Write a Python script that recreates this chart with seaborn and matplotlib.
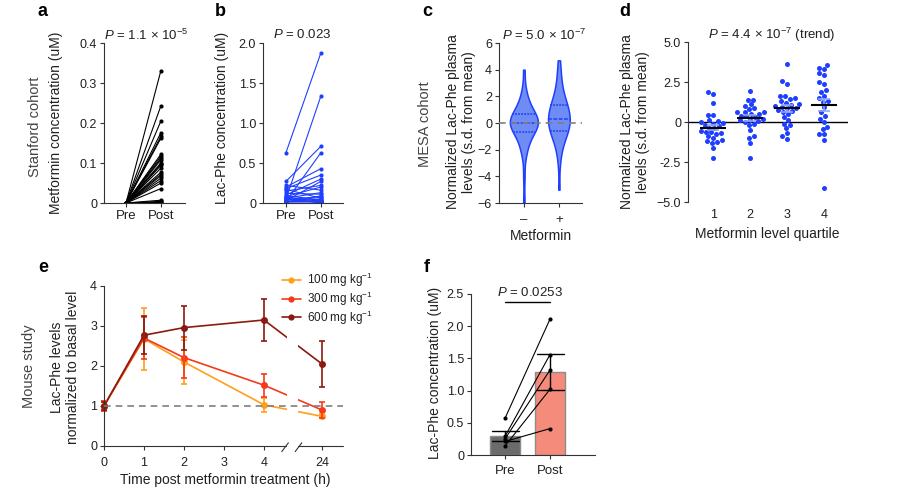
import numpy as np
import pandas as pd
import matplotlib
matplotlib.use("Agg")
import matplotlib.pyplot as plt
import matplotlib.transforms as mtrans
from matplotlib.patches import Rectangle
from matplotlib.lines import Line2D
import seaborn as sns

# ---------------- data ----------------
# a: Stanford cohort, metformin (uM)
metformin_pre = [0.0, 0.0, 0.0, 0.0, 0.0, 0.0, 0.0, 0.0, 0.0, 0.0, 0.0, 0.0, 0.0,
                 0.0, 0.0, 0.0, 0.0, 0.0, 0.0, 0.0, 0.0, 0.0, 0.0, 0.0, 0.0]
metformin_post = [0.331, 0.243, 0.205, 0.176, 0.167, 0.162, 0.122, 0.117, 0.112,
                  0.108, 0.100, 0.097, 0.094, 0.087, 0.077, 0.072, 0.068, 0.062,
                  0.056, 0.050, 0.036, 0.007, 0.004, 0.002, 0.001]
# b: Stanford cohort, Lac-Phe (uM)
lacphe_pre = [0.63, 0.05, 0.27, 0.02, 0.20, 0.18, 0.10, 0.03, 0.15, 0.08, 0.22, 0.06,
              0.12, 0.01, 0.04, 0.17, 0.02, 0.09, 0.05, 0.03, 0.07, 0.01, 0.04, 0.02, 0.06]
lacphe_post = [1.88, 1.34, 0.71, 0.63, 0.43, 0.35, 0.30, 0.27, 0.22, 0.20, 0.16, 0.13,
               0.11, 0.09, 0.08, 0.06, 0.05, 0.04, 0.03, 0.03, 0.02, 0.02, 0.01, 0.01, 0.00]
pair_labels = ["Pre", "Post"]

# c: MESA cohort, normalized Lac-Phe by metformin use
mesa_groups = ["\u2013", "+"]
mesa_minus = [-6.0, -4.0, -2.4, -2.1, -1.8, -1.5, -1.25, -1.05, -0.9, -0.75,
              -0.65, -0.55, -0.45, -0.38, -0.3, -0.22, -0.15, -0.1, -0.05, -0.02,
              0.02, 0.08, 0.15, 0.22, 0.3, 0.38, 0.45, 0.52, 0.58, 0.62,
              0.7, 0.85, 1.0, 1.15, 1.35, 1.55, 1.8, 2.1, 2.6, 4.0]
mesa_plus = [-5.0, -3.0, -2.2, -1.8, -1.5, -1.25, -1.05, -0.9, -0.8, -0.68,
             -0.58, -0.45, -0.35, -0.25, -0.12, 0.0, 0.08, 0.15, 0.22, 0.28,
             0.32, 0.42, 0.55, 0.7, 0.82, 0.95, 1.05, 1.15, 1.25, 1.35,
             1.42, 1.6, 1.8, 2.0, 2.25, 2.5, 2.9, 3.4, 3.9, 4.7]

# d: metformin level quartiles
quartile_labels = ["1", "2", "3", "4"]
q1_vals = [1.85, 1.75, 1.2, 0.45, 0.45, 0.1, 0.05, 0.0, -0.05, -0.1, -0.2, -0.25, -0.35,
           -0.4, -0.55, -0.6, -0.65, -0.7, -0.75, -0.9, -1.0, -1.15, -1.2, -1.25, -1.3,
           -1.6, -2.25]
q2_vals = [1.95, 1.4, 1.35, 1.1, 1.0, 0.85, 0.8, 0.65, 0.6, 0.6, 0.5, 0.5, 0.4, 0.35,
           0.3, 0.2, 0.15, 0.1, 0.05, 0.0, -0.1, -0.2, -0.5, -0.9, -1.0, -1.3, -2.25]
q3_vals = [3.65, 2.55, 2.4, 1.65, 1.6, 1.5, 1.45, 1.3, 1.2, 1.15, 1.05, 1.0, 0.95, 0.9,
           0.85, 0.75, 0.7, 0.6, 0.5, 0.3, 0.1, -0.1, -0.2, -0.4, -0.7, -0.9, -1.05]
q4_vals = [3.55, 3.4, 3.3, 3.05, 2.95, 2.5, 2.4, 2.0, 1.85, 1.6, 1.5, 1.3, 1.25, 0.95,
           0.6, 0.35, 0.2, 0.0, -0.3, -0.45, -0.75, -0.75, -1.1, -4.1]

# e: mouse study time course
hours = [0, 1, 2, 4, 24]
hour_ticks = [0, 1, 2, 3, 4, 24]
doses = ["100 mg kg$^{-1}$", "300 mg kg$^{-1}$", "600 mg kg$^{-1}$"]
mean_100 = [1.0, 2.68, 2.10, 1.03, 0.74]
sem_100 = [0.12, 0.78, 0.55, 0.17, 0.05]
mean_300 = [1.0, 2.70, 2.21, 1.52, 0.90]
sem_300 = [0.12, 0.53, 0.52, 0.29, 0.20]
mean_600 = [1.0, 2.77, 2.96, 3.15, 2.05]
sem_600 = [0.10, 0.48, 0.55, 0.53, 0.57]

# f: Lac-Phe pre/post (uM)
f_pre = [0.57, 0.29, 0.25, 0.14, 0.21]
f_post = [2.11, 1.56, 1.32, 1.02, 0.41]
f_p_text = "0.0253"

# ---------------- style ----------------
sns.set_theme(style="ticks")
plt.rcParams["font.family"] = ["Liberation Sans", "DejaVu Sans"]
plt.rcParams["mathtext.fontset"] = "custom"
plt.rcParams["mathtext.rm"] = "Liberation Sans"
plt.rcParams["mathtext.it"] = "Liberation Sans:italic"
plt.rcParams["axes.linewidth"] = 0.8
TXT = "#231f20"
BLUE = "#1f3fff"
TICK_FS = 9
CAT_FS = 9.5
LAB_FS = 10
P_FS = 9.5

W, H = 908, 492
fig = plt.figure(figsize=(W / 100, H / 100), dpi=100)


def add_ax(x0, x1, y0, y1):
    return fig.add_axes([x0 / W, 1 - y1 / H, (x1 - x0) / W, (y1 - y0) / H])


def ftext(x, y, s, **kw):
    kw.setdefault("color", TXT)
    kw.setdefault("ha", "center")
    kw.setdefault("va", "center")
    fig.text(x / W, 1 - y / H, s, **kw)


def style_ax(ax, xpad=2):
    sns.despine(ax=ax)
    ax.tick_params(axis="both", labelsize=TICK_FS, length=3, width=0.8,
                   colors="#333333", labelcolor=TXT, pad=2)
    ax.tick_params(axis="x", pad=xpad, labelsize=CAT_FS)
    for sp in ["left", "bottom"]:
        ax.spines[sp].set_color("#333333")
    ax.set_xlabel("")
    ax.set_ylabel("")


def pair_df(pre, post):
    n = len(pre)
    return pd.DataFrame({"subject": list(range(n)) * 2,
                         "pos": [0] * n + [1] * n,
                         "value": list(pre) + list(post)})


def ptext(x, y, rest, fs=P_FS):
    ftext(x, y, "$\\it{P}$ = " + rest, fontsize=fs)


# ---------------- panel a ----------------
ax = add_ax(104, 185, 43, 203)
sns.lineplot(data=pair_df(metformin_pre, metformin_post), x="pos", y="value",
             units="subject", estimator=None, color="black", lw=0.8,
             marker="o", markersize=3, markeredgewidth=0, ax=ax, legend=False)
ax.set_xlim(-0.63, 1.69)
ax.set_ylim(0, 0.4)
ax.set_yticks([0, 0.1, 0.2, 0.3, 0.4], ["0", "0.1", "0.2", "0.3", "0.4"])
ax.set_xticks([0, 1], pair_labels)
style_ax(ax)
ftext(35, 127, "Stanford cohort", rotation=90, fontsize=LAB_FS + 0.5, color="#444444")
ftext(56, 123, "Metformin concentration (uM)", rotation=90, fontsize=LAB_FS)
ptext(146, 35, "1.1 \u00d7 10$^{-5}$")

# ---------------- panel b ----------------
ax = add_ax(263, 343, 43, 203)
sns.lineplot(data=pair_df(lacphe_pre, lacphe_post), x="pos", y="value",
             units="subject", estimator=None, color=BLUE, lw=0.8,
             marker="o", markersize=3, markeredgewidth=0, ax=ax, legend=False)
ax.set_xlim(-0.657, 1.63)
ax.set_ylim(0, 2.0)
ax.set_yticks([0, 0.5, 1.0, 1.5, 2.0], ["0", "0.5", "1.0", "1.5", "2.0"])
ax.set_xticks([0, 1], pair_labels)
style_ax(ax)
ftext(222, 118, "Lac-Phe concentration (uM)", rotation=90, fontsize=LAB_FS)
ptext(302, 35, "0.023")

# ---------------- panel c ----------------
ax = add_ax(499, 582, 43, 203)
dfc = pd.DataFrame({"group": [mesa_groups[0]] * len(mesa_minus) + [mesa_groups[1]] * len(mesa_plus),
                    "value": mesa_minus + mesa_plus})
sns.violinplot(data=dfc, x="group", y="value", order=mesa_groups, inner="quart",
               cut=0, width=0.8, color="#6f8cf4", saturation=1, linecolor=BLUE,
               linewidth=1.1, bw_adjust=0.85, ax=ax)
ax.axhline(0, color="#808080", ls=(0, (4, 3)), lw=1.2, zorder=5)
ax.set_xlim(-0.71, 1.66)
ax.set_ylim(-6, 6)
ax.set_yticks([-6, -4, -2, 0, 2, 4, 6], ["\u22126", "\u22124", "\u22122", "0", "2", "4", "6"])
style_ax(ax, xpad=5)
ftext(425, 124, "MESA cohort", rotation=90, fontsize=LAB_FS + 0.5, color="#444444")
ftext(461, 122, "Normalized Lac-Phe plasma\nlevels (s.d. from mean)", rotation=90,
      fontsize=LAB_FS, linespacing=1.1)
ftext(541, 236, "Metformin", fontsize=LAB_FS)
ptext(544, 35, "5.0 \u00d7 10$^{-7}$")

# ---------------- panel d ----------------
ax = add_ax(688, 848, 42, 202)
qvals = [q1_vals, q2_vals, q3_vals, q4_vals]
dfd = pd.DataFrame({"quartile": sum([[q] * len(v) for q, v in zip(quartile_labels, qvals)], []),
                    "value": sum(qvals, [])})
ax.axhline(0, color="black", lw=1.0, zorder=1)
sns.swarmplot(data=dfd, x="quartile", y="value", order=quartile_labels, color=BLUE,
              size=3.6, ax=ax, zorder=3)
for i, v in enumerate(qvals):
    m = np.mean(v)
    s = np.std(v, ddof=1) / np.sqrt(len(v))
    ax.errorbar(i, m, yerr=s, color="#8ea6f8", capsize=4, lw=1.2, capthick=1.2, zorder=4)
    ax.hlines(m, i - 0.36, i + 0.36, color="black", lw=1.5, zorder=5)
ax.set_xlim(-0.68, 3.65)
ax.set_ylim(-5, 5)
ax.set_yticks([-5, -2.5, 0, 2.5, 5], ["\u22125.0", "-2.5", "0", "2.5", "5.0"])
style_ax(ax, xpad=5)
ax.spines["bottom"].set_visible(False)
ax.tick_params(axis="x", length=0, labelsize=TICK_FS)
ftext(635, 122, "Normalized Lac-Phe plasma\nlevels (s.d. from mean)", rotation=90,
      fontsize=LAB_FS, linespacing=1.1)
ftext(767, 234, "Metformin level quartile", fontsize=LAB_FS)
ptext(772, 35, "4.4 \u00d7 10$^{-7}$ (trend)")

# ---------------- panel e ----------------
ax = add_ax(104, 343, 286, 446)
BREAK_POS = 5.45


def xpos(h):
    return h if h <= 4 else BREAK_POS


palette_e = ["#ff9f1c", "#f5391c", "#8b1a10"]
rows = []
for d, ms_, ss_ in zip(doses, [mean_100, mean_300, mean_600], [sem_100, sem_300, sem_600]):
    for h, m, s in zip(hours, ms_, ss_):
        rows.append({"dose": d, "pos": xpos(h), "mean": m, "sem": s})
dfe = pd.DataFrame(rows)
sns.lineplot(data=dfe, x="pos", y="mean", hue="dose", hue_order=doses, palette=palette_e,
             marker="o", markersize=5, markeredgewidth=0, lw=1.2, ax=ax, legend=False)
for d, c in zip(doses, palette_e):
    sub = dfe[dfe["dose"] == d]
    ax.errorbar(sub["pos"], sub["mean"], yerr=sub["sem"], fmt="none", ecolor=c,
                elinewidth=1.2, capsize=2.5, capthick=1.2, clip_on=False)
for ln in ax.lines:
    ln.set_clip_on(False)
blend = mtrans.blended_transform_factory(ax.transData, ax.transAxes)
ax.add_patch(Rectangle((4.575, 0.0), 4.85 - 4.575, 1.0, transform=blend,
                       facecolor="white", edgecolor="none", zorder=3))
ax.axhline(1, color="#7f7f7f", ls=(0, (4, 3)), lw=1.2, zorder=4)
ax.set_xlim(0, 5.975)
ax.set_ylim(0, 4)
ax.set_yticks([0, 1, 2, 3, 4])
ax.set_xticks([xpos(h) for h in hour_ticks], [str(h) for h in hour_ticks])
style_ax(ax, xpad=5)
ax.tick_params(axis="x", labelsize=TICK_FS)
ax.spines["bottom"].set_visible(False)
ax.plot([0, 4.55], [0, 0], color="#333333", lw=0.8, clip_on=False, zorder=6)
ax.plot([4.85, 5.975], [0, 0], color="#333333", lw=0.8, clip_on=False, zorder=6)
ax.plot([4.445, 4.61], [-0.14, 0.08], color="#333333", lw=0.8, clip_on=False, zorder=6)
ax.plot([4.78, 4.945], [-0.14, 0.08], color="#333333", lw=0.8, clip_on=False, zorder=6)
handles = [Line2D([0], [0], color=c, marker="o", markersize=4.5, markeredgewidth=0, lw=1.2)
           for c in palette_e]
leg = ax.legend(handles, doses, loc="upper left", bbox_to_anchor=(277 / W, 1 - 266 / H),
                bbox_transform=fig.transFigure, frameon=False, fontsize=8.5,
                handlelength=1.6, handletextpad=0.5, labelspacing=0.05, borderaxespad=0)
for t in leg.get_texts():
    t.set_color(TXT)
ftext(29, 366, "Mouse study", rotation=90, fontsize=LAB_FS + 0.5, color="#444444")
ftext(65, 367, "Lac-Phe levels\nnormalized to basal level", rotation=90,
      fontsize=LAB_FS, linespacing=1.1)
ftext(225, 480, "Time post metformin treatment (h)", fontsize=LAB_FS)

# ---------------- panel f ----------------
ax = add_ax(471, 595, 294, 455)
dff = pd.DataFrame({"time": [pair_labels[0]] * len(f_pre) + [pair_labels[1]] * len(f_post),
                    "value": f_pre + f_post,
                    "subject": list(range(len(f_pre))) * 2,
                    "pos": [0] * len(f_pre) + [1] * len(f_post)})
sns.barplot(data=dff, x="time", y="value", order=pair_labels, hue="time",
            palette={"Pre": "#6b6b6b", "Post": "#f58b7b"}, saturation=1,
            errorbar="se", capsize=0.6, err_kws={"color": "black", "linewidth": 1.0},
            width=0.67, edgecolor="#8c8c8c", linewidth=1.0, legend=False, ax=ax)
sns.lineplot(data=dff, x="pos", y="value", units="subject", estimator=None,
             color="black", lw=0.8, marker="o", markersize=3, markeredgewidth=0,
             ax=ax, legend=False, zorder=5)
ax.plot([0, 1], [2.38, 2.38], color="black", lw=1.0)
ax.set_xlim(-0.756, 2.0)
ax.set_ylim(0, 2.5)
ax.set_yticks([0, 0.5, 1.0, 1.5, 2.0, 2.5], ["0", "0.5", "1.0", "1.5", "2.0", "2.5"])
ax.set_xticks([0, 1], pair_labels)
style_ax(ax, xpad=4)
ftext(435, 373, "Lac-Phe concentration (uM)", rotation=90, fontsize=LAB_FS)
ptext(530, 292, f_p_text)

# ---------------- panel letters ----------------
for lab, x, y in [("a", 43, 12), ("b", 220, 12), ("c", 427, 12), ("d", 625, 12),
                  ("e", 43, 268), ("f", 427, 268)]:
    ftext(x, y, lab, fontsize=13, fontweight="bold", color="black")

fig.savefig("out.png", dpi=100)
